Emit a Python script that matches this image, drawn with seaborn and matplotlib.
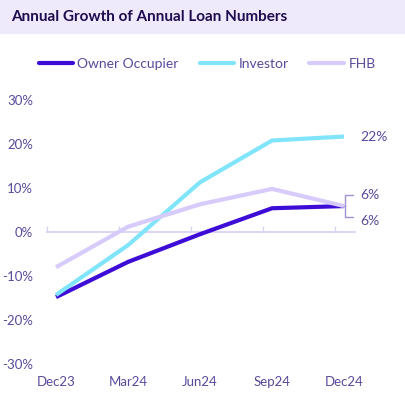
import numpy as np
import pandas as pd
import matplotlib
matplotlib.use("Agg")
import matplotlib.pyplot as plt
import seaborn as sns

quarters = ["Dec23", "Mar24", "Jun24", "Sep24", "Dec24"]
quarter_pos = [0, 1, 2, 3, 4]
owner_occupier = [-14.8, -6.8, -0.5, 5.4, 5.9]
investor = [-14.3, -3.0, 11.3, 20.8, 21.7]
fhb = [-8.0, 1.2, 6.3, 9.8, 5.9]
series_names = ["Owner Occupier", "Investor", "FHB"]
end_labels = ["6%", "22%", "6%"]

colors = {"Owner Occupier": "#3D0CD6", "Investor": "#80E5FA", "FHB": "#D6CBFA"}
text_col = "#574B9C"

df = pd.DataFrame({
    "pos": quarter_pos * 3,
    "value": owner_occupier + investor + fhb,
    "series": np.repeat(series_names, len(quarters)),
})

sns.set_style("white")
plt.rcParams["font.family"] = ["Lato", "DejaVu Sans"]

fig = plt.figure(figsize=(4.06, 3.95), dpi=100)
ax = fig.add_axes([0.1158, 0.0785, 0.874 - 0.1158, 0.7468 - 0.0785])

sns.lineplot(data=df, x="pos", y="value", hue="series", palette=colors,
             hue_order=series_names, linewidth=3, ax=ax, legend=False)
for ln in ax.lines:
    ln.set_solid_capstyle("butt")

ax.set_xlim(-0.125, 4.15)
ax.set_ylim(-30, 30)
ax.set_yticks([-30, -20, -10, 0, 10, 20, 30])
ax.set_yticklabels([f"{v}%" for v in [-30, -20, -10, 0, 10, 20, 30]])
ax.set_xticks(quarter_pos)
ax.set_xticklabels(quarters)
ax.tick_params(axis="both", length=0, labelsize=9.5, colors=text_col)
ax.tick_params(axis="y", pad=10)
ax.tick_params(axis="x", pad=9)
ax.set_xlabel("")
ax.set_ylabel("")
for s in ax.spines.values():
    s.set_visible(False)

# zero axis line with tick marks
zero = ax.secondary_xaxis(0.5)
for s in zero.spines.values():
    s.set_color("#D9D2F2")
    s.set_linewidth(1.3)
zero.set_xticks([p - 0.125 for p in quarter_pos])
zero.set_xticklabels([])
zero.tick_params(length=4, width=1, color="#D9D2F2", direction="out")
zero.set_zorder(0)

# end labels
ax.text(4.22, investor[-1], end_labels[1], color=text_col, fontsize=10,
        va="center", ha="left", clip_on=False)
bx = 4.0
ax.plot([bx, bx + 0.015, bx + 0.015, bx + 0.13], [fhb[-1], fhb[-1], 8.5, 8.5],
        color="#9D92D2", lw=1, clip_on=False)
ax.plot([bx + 0.015, bx + 0.015, bx + 0.13], [fhb[-1], 3.3, 3.3],
        color="#9D92D2", lw=1, clip_on=False)
ax.text(4.22, 8.3, end_labels[2], color=text_col, fontsize=10,
        va="center", ha="left", clip_on=False)
ax.text(4.22, 2.4, end_labels[0], color=text_col, fontsize=10,
        va="center", ha="left", clip_on=False)

# title band
fig.patches.append(plt.Rectangle((0, 1 - 33 / 395), 1, 33 / 395,
                                 transform=fig.transFigure, color="#EEEAFB", zorder=0))
fig.text(11 / 406, 1 - 17 / 395, "Annual Growth of Annual Loan Numbers",
         fontsize=11, fontweight="bold", color="#1E0B50", va="center", ha="left")

handles = [plt.Line2D([], [], color=colors[n], lw=3) for n in series_names]
fig.legend(handles, series_names, loc="center", bbox_to_anchor=(0.51, 1 - 64 / 395),
           ncol=3, frameon=False, fontsize=10, handlelength=2.5, handletextpad=0.3,
           columnspacing=1.5, labelcolor=text_col)

fig.savefig("out.png", dpi=100)
